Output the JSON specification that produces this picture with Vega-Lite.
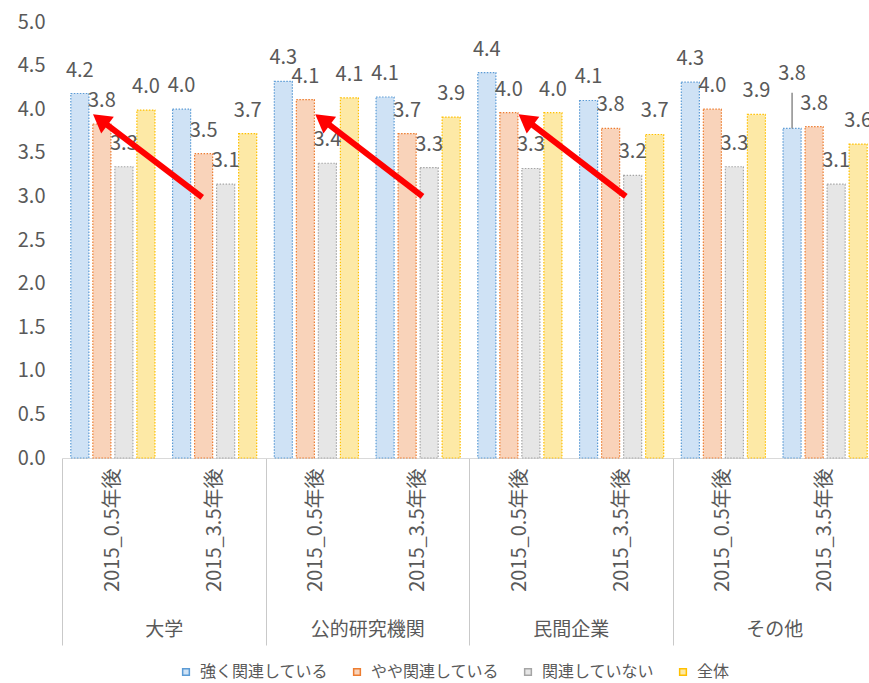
{
  "$schema": "https://vega.github.io/schema/vega-lite/v6.json",
  "width": 814,
  "height": 436,
  "autosize": {"type": "none"},
  "padding": {"left": 62, "top": 22, "right": -7, "bottom": 225},
  "background": "white",
  "config": {
    "view": {"stroke": null},
    "font": "Noto Sans CJK JP",
    "axis": {"labelFont": "Noto Sans CJK JP", "labelColor": "#595959"},
    "legend": {"labelFont": "Noto Sans CJK JP"}
  },
  "datasets": {
    "bars": [
      {"org": "大学", "cat": "大学|2015_0.5年後", "series": "強く関連している", "value": 4.18},
      {"org": "大学", "cat": "大学|2015_0.5年後", "series": "やや関連している", "value": 3.83},
      {"org": "大学", "cat": "大学|2015_0.5年後", "series": "関連していない", "value": 3.34},
      {"org": "大学", "cat": "大学|2015_0.5年後", "series": "全体", "value": 3.99},
      {"org": "大学", "cat": "大学|2015_3.5年後", "series": "強く関連している", "value": 4.0},
      {"org": "大学", "cat": "大学|2015_3.5年後", "series": "やや関連している", "value": 3.49},
      {"org": "大学", "cat": "大学|2015_3.5年後", "series": "関連していない", "value": 3.14},
      {"org": "大学", "cat": "大学|2015_3.5年後", "series": "全体", "value": 3.72},
      {"org": "公的研究機関", "cat": "公的研究機関|2015_0.5年後", "series": "強く関連している", "value": 4.32},
      {"org": "公的研究機関", "cat": "公的研究機関|2015_0.5年後", "series": "やや関連している", "value": 4.11},
      {"org": "公的研究機関", "cat": "公的研究機関|2015_0.5年後", "series": "関連していない", "value": 3.38},
      {"org": "公的研究機関", "cat": "公的研究機関|2015_0.5年後", "series": "全体", "value": 4.13},
      {"org": "公的研究機関", "cat": "公的研究機関|2015_3.5年後", "series": "強く関連している", "value": 4.14},
      {"org": "公的研究機関", "cat": "公的研究機関|2015_3.5年後", "series": "やや関連している", "value": 3.72},
      {"org": "公的研究機関", "cat": "公的研究機関|2015_3.5年後", "series": "関連していない", "value": 3.33},
      {"org": "公的研究機関", "cat": "公的研究機関|2015_3.5年後", "series": "全体", "value": 3.91},
      {"org": "民間企業", "cat": "民間企業|2015_0.5年後", "series": "強く関連している", "value": 4.42},
      {"org": "民間企業", "cat": "民間企業|2015_0.5年後", "series": "やや関連している", "value": 3.96},
      {"org": "民間企業", "cat": "民間企業|2015_0.5年後", "series": "関連していない", "value": 3.32},
      {"org": "民間企業", "cat": "民間企業|2015_0.5年後", "series": "全体", "value": 3.96},
      {"org": "民間企業", "cat": "民間企業|2015_3.5年後", "series": "強く関連している", "value": 4.1},
      {"org": "民間企業", "cat": "民間企業|2015_3.5年後", "series": "やや関連している", "value": 3.78},
      {"org": "民間企業", "cat": "民間企業|2015_3.5年後", "series": "関連していない", "value": 3.24},
      {"org": "民間企業", "cat": "民間企業|2015_3.5年後", "series": "全体", "value": 3.71},
      {"org": "その他", "cat": "その他|2015_0.5年後", "series": "強く関連している", "value": 4.31},
      {"org": "その他", "cat": "その他|2015_0.5年後", "series": "やや関連している", "value": 4.0},
      {"org": "その他", "cat": "その他|2015_0.5年後", "series": "関連していない", "value": 3.34},
      {"org": "その他", "cat": "その他|2015_0.5年後", "series": "全体", "value": 3.94},
      {"org": "その他", "cat": "その他|2015_3.5年後", "series": "強く関連している", "value": 3.78},
      {"org": "その他", "cat": "その他|2015_3.5年後", "series": "やや関連している", "value": 3.8},
      {"org": "その他", "cat": "その他|2015_3.5年後", "series": "関連していない", "value": 3.14},
      {"org": "その他", "cat": "その他|2015_3.5年後", "series": "全体", "value": 3.6}
    ],
    "arrows": [
      {"tx": 1.378, "ty": 2.99, "hx": 0.376, "hy": 3.88},
      {"tx": 3.543, "ty": 3.0, "hx": 2.56, "hy": 3.88},
      {"tx": 5.541, "ty": 3.0, "hx": 4.558, "hy": 3.88}
    ]
  },
  "layer": [
    {
      "data": {"name": "bars"},
      "mark": {"type": "point", "opacity": 0},
      "encoding": {
        "x": {
          "field": "org", "type": "nominal",
          "sort": ["大学", "公的研究機関", "民間企業", "その他"],
          "scale": {"paddingInner": 0, "paddingOuter": 0},
          "axis": {"orient": "bottom", "title": null, "domain": false, "ticks": true, "tickBand": "extent", "tickSize": 187, "tickColor": "#c9c9c9", "tickWidth": 1, "labelAngle": 0, "labelPadding": -25, "labelFontSize": 19, "labelColor": "#595959"}
        },
        "y": {
          "field": "value", "type": "quantitative", "scale": {"domain": [0, 5]},
          "axis": {"values": [0, 0.5, 1, 1.5, 2, 2.5, 3, 3.5, 4, 4.5, 5], "format": ".1f", "grid": false, "domain": false, "ticks": false, "labelPadding": 17, "title": null, "labelFontSize": 20, "labelColor": "#595959"}
        }
      }
    },
    {
      "data": {"name": "bars"},
      "encoding": {
        "x": {
          "field": "cat", "type": "nominal",
          "sort": ["大学|2015_0.5年後", "大学|2015_3.5年後", "公的研究機関|2015_0.5年後", "公的研究機関|2015_3.5年後", "民間企業|2015_0.5年後", "民間企業|2015_3.5年後", "その他|2015_0.5年後", "その他|2015_3.5年後"],
          "scale": {"paddingInner": 0, "paddingOuter": 0},
          "axis": {"orient": "bottom", "title": null, "labelExpr": "split(datum.label, '|')[1]", "labelAngle": 270, "labelAlign": "right", "labelBaseline": "middle", "labelPadding": 10, "ticks": false, "domain": true, "domainColor": "#d9d9d9", "labelFontSize": 20, "labelColor": "#595959"}
        },
        "xOffset": {
          "field": "series", "type": "nominal",
          "sort": ["強く関連している", "やや関連している", "関連していない", "全体"],
          "scale": {"paddingInner": 0.18, "paddingOuter": 0.4}
        },
        "y": {
          "field": "value", "type": "quantitative", "scale": {"domain": [0, 5]},
          "axis": {"values": [0, 0.5, 1, 1.5, 2, 2.5, 3, 3.5, 4, 4.5, 5], "format": ".1f", "grid": false, "domain": false, "ticks": false, "labelPadding": 17, "title": null, "labelFontSize": 20, "labelColor": "#595959"}
        }
      },
      "layer": [
        {
          "mark": {"type": "bar", "strokeDash": [1.5, 1.5], "strokeWidth": 1.2},
          "encoding": {
            "color": {
              "field": "series", "type": "nominal",
              "scale": {"domain": ["強く関連している", "やや関連している", "関連していない", "全体"], "range": ["#cfe2f5", "#f9d3ba", "#e6e6e6", "#fde9a6"]},
              "legend": {"orient": "none", "legendX": 116, "legendY": 642, "direction": "horizontal", "title": null, "labelFontSize": 16, "labelColor": "#595959", "symbolType": "square", "symbolSize": 45, "columnPadding": 20, "labelOffset": 6}
            },
            "stroke": {
              "field": "series", "type": "nominal",
              "scale": {"domain": ["強く関連している", "やや関連している", "関連していない", "全体"], "range": ["#5b9bd5", "#ed7d31", "#a5a5a5", "#ffc000"]},
              "legend": null
            }
          }
        },
        {
          "transform": [{"filter": "!(datum.cat == 'その他|2015_3.5年後' && datum.series == '強く関連している')"}],
          "mark": {"type": "text", "dy": -23, "fontSize": 20, "color": "#595959", "baseline": "middle"},
          "encoding": {"text": {"field": "value", "type": "quantitative", "format": ".1f"}}
        },
        {
          "transform": [{"filter": "datum.cat == 'その他|2015_3.5年後' && datum.series == '強く関連している'"}],
          "mark": {"type": "text", "dy": -54, "fontSize": 20, "color": "#595959", "baseline": "middle"},
          "encoding": {"text": {"field": "value", "type": "quantitative", "format": ".1f"}}
        },
        {
          "transform": [{"filter": "datum.cat == 'その他|2015_3.5年後' && datum.series == '強く関連している'"}],
          "mark": {"type": "rule", "color": "#8c8c8c", "strokeWidth": 1.5},
          "encoding": {"y2": {"datum": 4.19}}
        }
      ]
    },
    {
      "data": {"name": "arrows"},
      "layer": [
        {
          "mark": {"type": "rule", "color": "#ff0000", "strokeWidth": 6},
          "encoding": {
            "x": {"field": "tx", "type": "quantitative", "scale": {"domain": [0, 8], "nice": false}, "axis": null},
            "x2": {"field": "hx"},
            "y": {"field": "ty", "type": "quantitative", "scale": {"domain": [0, 5]}, "axis": {"values": [0, 0.5, 1, 1.5, 2, 2.5, 3, 3.5, 4, 4.5, 5], "format": ".1f", "grid": false, "domain": false, "ticks": false, "labelPadding": 17, "title": null, "labelFontSize": 20, "labelColor": "#595959"}},
            "y2": {"field": "hy"}
          }
        },
        {
          "mark": {"type": "point", "shape": "triangle-up", "filled": true, "color": "#ff0000", "opacity": 1, "size": 440, "angle": 307},
          "encoding": {
            "x": {"field": "hx", "type": "quantitative", "scale": {"domain": [0, 8], "nice": false}, "axis": null},
            "y": {"field": "hy", "type": "quantitative", "scale": {"domain": [0, 5]}, "axis": {"values": [0, 0.5, 1, 1.5, 2, 2.5, 3, 3.5, 4, 4.5, 5], "format": ".1f", "grid": false, "domain": false, "ticks": false, "labelPadding": 17, "title": null, "labelFontSize": 20, "labelColor": "#595959"}}
          }
        }
      ]
    }
  ],
  "resolve": {"scale": {"x": "independent"}, "axis": {"x": "independent"}}
}
